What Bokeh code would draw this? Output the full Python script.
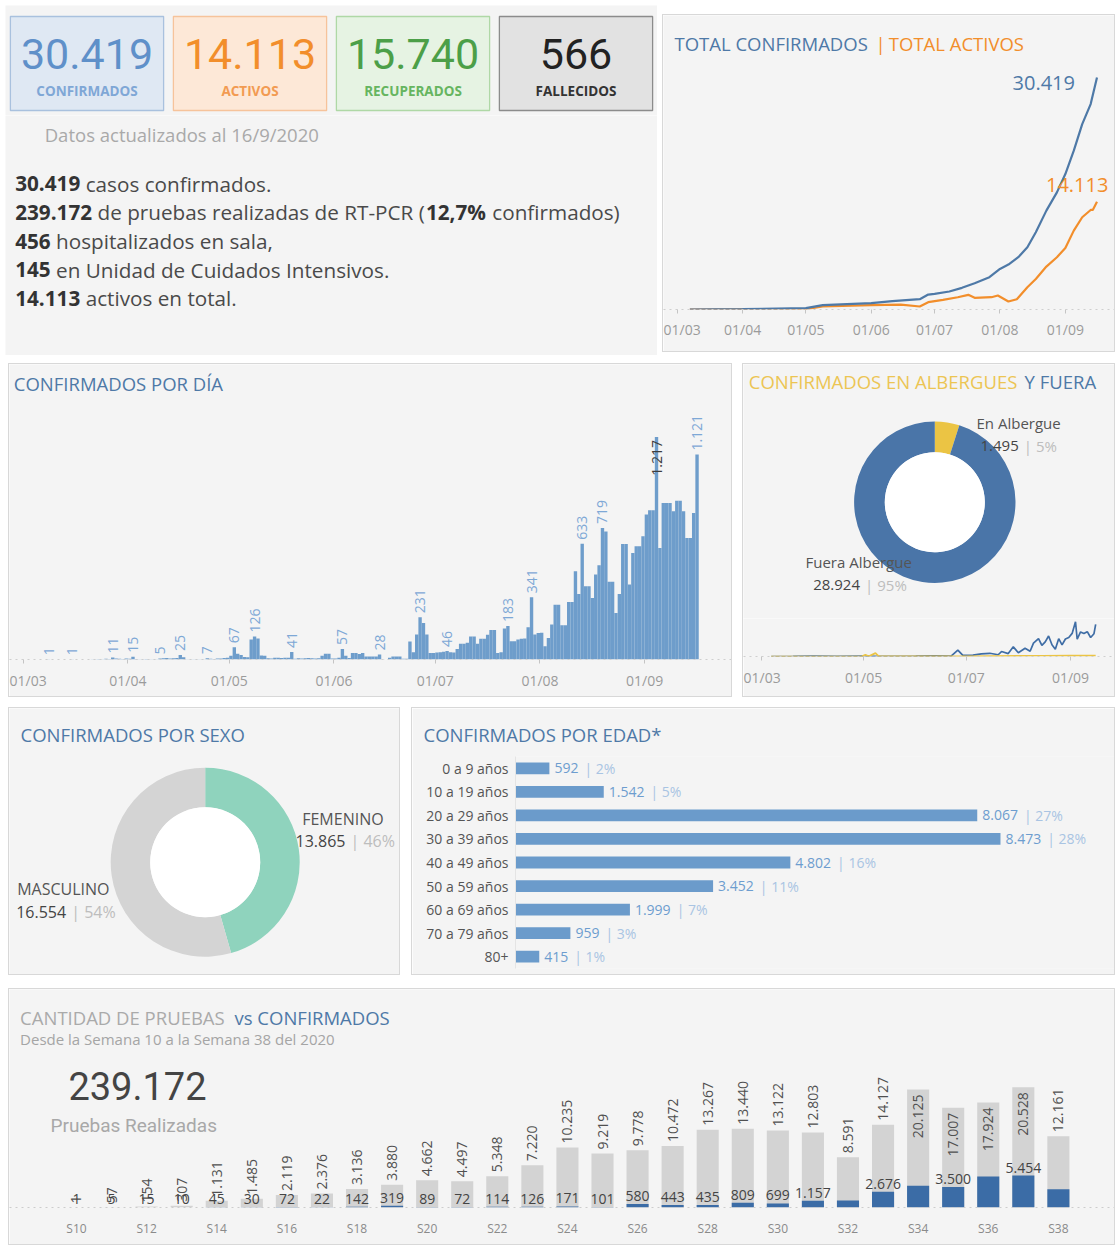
import math
from datetime import datetime, timedelta
import pandas as pd
from bokeh.plotting import figure
from bokeh.models import (ColumnDataSource, Range1d, FactorRange, FixedTicker,
                          DatetimeTickFormatter, Label, Title)
from bokeh.layouts import row, column
from bokeh.embed import file_html
from bokeh.resources import INLINE
from bokeh.core.properties import value

# ------------------------------------------------------------------ DATA
kpi_labels = ["CONFIRMADOS", "ACTIVOS", "RECUPERADOS", "FALLECIDOS"]
kpi_values = [30419, 14113, 15740, 566]

update_text = "Datos actualizados al 16/9/2020"
summary_lines = [
    [("30.419 ", True), ("casos confirmados.", False)],
    [("239.172 ", True), ("de pruebas realizadas de RT-PCR (", False), ("12,7% ", True), ("confirmados)", False)],
    [("456 ", True), ("hospitalizados en sala,", False)],
    [("145 ", True), ("en Unidad de Cuidados Intensivos.", False)],
    [("14.113 ", True), ("activos en total.", False)],
]

# cumulative totals (top-right)
cum_dates = ["2020-03-07", "2020-04-01", "2020-05-01", "2020-05-09", "2020-06-01", "2020-06-11",
             "2020-06-24", "2020-06-28", "2020-07-01", "2020-07-08", "2020-07-14", "2020-07-20",
             "2020-07-27", "2020-08-01", "2020-08-05", "2020-08-10", "2020-08-14", "2020-08-18",
             "2020-08-23", "2020-08-28", "2020-09-01", "2020-09-05", "2020-09-09", "2020-09-13",
             "2020-09-16"]
cum_confirmed = [1, 40, 170, 570, 830, 1090, 1350, 1960, 2050, 2360, 2840, 3450, 4230, 5320,
                 5890, 6940, 8160, 10120, 12960, 15360, 17760, 20820, 24300, 26930, 30419]
act_dates = ["2020-03-07", "2020-04-01", "2020-05-01", "2020-05-09", "2020-06-01", "2020-06-15",
             "2020-06-24", "2020-06-28", "2020-07-05", "2020-07-12", "2020-07-17", "2020-07-20",
             "2020-07-28", "2020-07-31", "2020-08-05", "2020-08-09", "2020-08-14", "2020-08-18",
             "2020-08-23", "2020-08-28", "2020-09-01", "2020-09-05", "2020-09-09", "2020-09-13",
             "2020-09-14", "2020-09-16"]
act_values = [1, 30, 50, 400, 570, 650, 390, 960, 1270, 1610, 1920, 1530, 1610, 1830, 1050, 1350,
              2920, 4010, 5630, 6850, 8070, 10340, 12090, 13050, 13050, 14113]

# daily confirmed
daily_mar = [0, 0, 0, 0, 0, 0, 0, 1, 0, 0, 0, 0, 0, 0, 1, 0, 0, 0, 0, 0, 2, 1, 3, 2, 4, 3, 11, 6, 4, 3, 5]
daily_apr = [4, 15, 3, 2, 1, 3, 2, 1, 2, 5, 7, 8, 6, 7, 8, 25, 12, 2, 1, 1, 2, 1, 2, 7, 4, 3, 5, 6, 8, 10]
daily_may = [20, 67, 31, 25, 13, 12, 110, 126, 115, 22, 20, 7, 6, 9, 9, 8, 9, 9, 41, 4, 7, 6, 7, 8, 7,
             6, 7, 20, 31, 31, 6]
daily_jun = [5, 10, 57, 20, 8, 35, 35, 30, 35, 16, 16, 16, 16, 28, 2, 0, 10, 16, 16, 16, 4, 4, 98, 40,
             137, 231, 200, 137, 35, 35]
daily_jul = [38, 40, 42, 46, 40, 38, 58, 86, 86, 91, 126, 126, 86, 113, 113, 135, 162, 162, 35, 40, 170,
             183, 100, 100, 110, 113, 115, 177, 341, 137, 145]
daily_aug = [146, 73, 118, 191, 300, 300, 188, 188, 315, 315, 483, 359, 633, 401, 401, 337, 465, 516,
             719, 700, 425, 425, 255, 359, 632, 632, 410, 583, 620, 620, 674]
daily_sep = [793, 816, 816, 1217, 610, 856, 856, 856, 811, 869, 869, 811, 665, 665, 802, 1121]
daily_labeled = ["2020-03-08", "2020-03-15", "2020-03-27", "2020-04-02", "2020-04-10", "2020-04-16",
                 "2020-04-24", "2020-05-02", "2020-05-08", "2020-05-19", "2020-06-03", "2020-06-14",
                 "2020-06-26", "2020-07-04", "2020-07-22", "2020-07-29", "2020-08-13", "2020-08-19",
                 "2020-09-04", "2020-09-16"]
daily_label_inside = ["2020-09-04"]

month_ticks = ["2020-03-01", "2020-04-01", "2020-05-01", "2020-06-01", "2020-07-01", "2020-08-01",
               "2020-09-01"]
bimonth_ticks = ["2020-03-01", "2020-05-01", "2020-07-01", "2020-09-01"]

# albergues
alb_categories = ["En Albergue", "Fuera Albergue"]
alb_values = [1495, 28924]
alb_pct = ["5%", "95%"]
fuera_dates = ["2020-03-07", "2020-03-20", "2020-04-01", "2020-04-15", "2020-05-01", "2020-05-08",
               "2020-05-15", "2020-06-01", "2020-06-12", "2020-06-22", "2020-06-26", "2020-06-29",
               "2020-07-05", "2020-07-10", "2020-07-15", "2020-07-20", "2020-07-22", "2020-07-26",
               "2020-07-29", "2020-08-01", "2020-08-05", "2020-08-08", "2020-08-10", "2020-08-13",
               "2020-08-15", "2020-08-17", "2020-08-19", "2020-08-21", "2020-08-23", "2020-08-25",
               "2020-08-27", "2020-08-29", "2020-08-31", "2020-09-02", "2020-09-04", "2020-09-05",
               "2020-09-07", "2020-09-09", "2020-09-11", "2020-09-13", "2020-09-15", "2020-09-16"]
fuera_values = [0, 2, 10, 8, 15, 5, 8, 10, 20, 15, 220, 40, 45, 90, 110, 60, 170, 100, 330, 130, 280,
                180, 460, 610, 380, 500, 700, 400, 250, 610, 400, 600, 650, 790, 1190, 590, 840, 790,
                850, 650, 780, 1100]
alb_dates = ["2020-03-07", "2020-04-20", "2020-04-30", "2020-05-02", "2020-05-04", "2020-05-08",
             "2020-05-10", "2020-06-01", "2020-07-01", "2020-07-15", "2020-08-01", "2020-08-15",
             "2020-09-01", "2020-09-16"]
alb_daily = [0, 0, 5, 60, 5, 115, 5, 3, 5, 15, 20, 25, 30, 30]

# sexo
sex_categories = ["FEMENINO", "MASCULINO"]
sex_values = [13865, 16554]
sex_pct = ["46%", "54%"]

# edad
age_groups = ["0 a 9 años", "10 a 19 años", "20 a 29 años", "30 a 39 años", "40 a 49 años",
              "50 a 59 años", "60 a 69 años", "70 a 79 años", "80+"]
age_values = [592, 1542, 8067, 8473, 4802, 3452, 1999, 959, 415]
age_pct = ["2%", "5%", "27%", "28%", "16%", "11%", "7%", "3%", "1%"]

# pruebas vs confirmados por semana
weeks = [10, 11, 12, 13, 14, 15, 16, 17, 18, 19, 20, 21, 22, 23, 24, 25, 26, 27, 28, 29, 30, 31,
         32, 33, 34, 35, 36, 37, 38]
week_tests = [1, 57, 154, 307, 1131, 1485, 2119, 2376, 3136, 3880, 4662, 4497, 5348, 7220, 10235,
              9219, 9778, 10472, 13267, 13440, 13122, 12803, 8591, 14127, 20125, 17007, 17924, 20528,
              12161]
week_confirmed = [1, 5, 15, 10, 45, 30, 72, 22, 142, 319, 89, 72, 114, 126, 171, 101, 580, 443, 435,
                  809, 699, 1157, 1180, 2676, 3700, 3500, 5300, 5454, 3100]
week_tick_weeks = [10, 12, 14, 16, 18, 20, 22, 24, 26, 28, 30, 32, 34, 36, 38]
conf_label_hidden = [32, 34, 36, 38]
total_tests_text = "239.172"

# ------------------------------------------------------------------ STYLE
FONT = "Open Sans"
NUMFONT = "Roboto"
BG = "#f4f4f4"
BORDER = {"border": "1px solid #d8d8d8"}
BLUE = "#4e79a7"
ORANGE = "#f28e2b"

OW = {' ': .26, '.': .266, ',': .244, '(': .297, ')': .297, '-': .322, '%': .828, '/': .367,
      '|': .55, '*': .55}
for _c in '0123456789':
    OW[_c] = .572
OW.update(dict(a=.556, b=.613, c=.476, d=.613, e=.561, f=.339, g=.548, h=.614, i=.253, j=.253,
               k=.525, l=.253, m=.930, n=.614, o=.604, p=.613, q=.613, r=.408, s=.477, t=.353,
               u=.614, v=.501, w=.778, x=.524, y=.501, z=.477))
OW.update(dict(A=.633, B=.648, C=.631, D=.729, E=.556, F=.516, G=.728, H=.738, I=.279, L=.524,
               M=.903, N=.760, O=.781, P=.603, R=.627, S=.549, T=.556, U=.734, V=.600))
BOLD_EXTRA = {'%': .12, ',': .04, '.': .02}


def tw(s, size, bold=False):
    w = sum(OW.get(ch, .58) + (BOLD_EXTRA.get(ch, 0) if bold else 0) for ch in s) * size
    return w


def fmt(v):
    return f"{v:,}".replace(",", ".")


def day(n):
    return datetime(2020, 3, 1) + timedelta(days=n)


def mk(w, h, **kw):
    p = figure(width=w, height=h, output_backend="svg", toolbar_location=None, title=None, **kw)
    p.background_fill_color = BG
    p.border_fill_color = BG
    p.outline_line_color = None
    p.grid.visible = False
    return p


def lab(p, x, y, text, color, size, style="normal", font=FONT, align="left"):
    p.add_layout(Label(x=x, y=y, x_units="canvas", y_units="canvas", text=text,
                       text_color=color, text_font_size=f"{size}px", text_font=font,
                       text_font_style=style, text_align=align, text_baseline="middle"))


def style_dt_axis(p, ticks, size="14px", standoff=8):
    ax = p.xaxis[0]
    ax.ticker = FixedTicker(ticks=[pd.Timestamp(t).value / 1e6 for t in ticks])
    ax.formatter = DatetimeTickFormatter(days="%d/%m", months="%d/%m", years="%d/%m")
    ax.major_label_text_font = FONT
    ax.major_label_text_font_size = size
    ax.major_label_text_color = "#9b9b9b"
    ax.axis_line_color = "#cfcfcf"
    ax.axis_line_dash = "dotted"
    ax.major_tick_line_color = "#c4c4c4"
    ax.major_tick_in = 0
    ax.major_tick_out = 4
    ax.minor_tick_line_color = None
    ax.major_label_standoff = standoff


def panel(*children, margin=(0, 0, 0, 0)):
    return column(*children, spacing=0, styles=BORDER, margin=margin)


# ------------------------------------------------------------------ KPI boxes
kpi = mk(652, 110, x_range=FactorRange(*kpi_labels, range_padding=0), y_range=Range1d(0, 110),
         x_axis_location=None, y_axis_location=None, min_border=0)
ksrc = ColumnDataSource(dict(
    k=kpi_labels, v=[fmt(v) for v in kpi_values],
    fill=["#dfe8f3", "#fde8d7", "#e6f3e3", "#e2e2e2"],
    line=["#a9c1de", "#f6c39b", "#afd8a6", "#8c8c8c"],
    num=["#5f90c9", "#f28e2b", "#4c9f48", "#222222"],
    lab=["#7fa7d6", "#f29b52", "#66b560", "#333333"]))
kpi.rect(x="k", y=52, width=0.94, height=94, fill_color="fill", line_color="line", line_width=1.3,
         source=ksrc)
kpi.text(x="k", y=62, text="v", text_color="num", text_font=value(NUMFONT), text_font_size="43px",
         text_align="center", text_baseline="middle", source=ksrc)
kpi.text(x="k", y=25, text="k", text_color="lab", text_font=value(FONT), text_font_size="13.5px",
         text_font_style="bold", text_align="center", text_baseline="middle", source=ksrc)

# ------------------------------------------------------------------ summary text
tx = mk(652, 240, x_range=Range1d(0, 652), y_range=Range1d(240, 0),
        x_axis_location=None, y_axis_location=None, min_border=0)
tx.text(x=[39.2], y=[19], text=[update_text], text_color="#a9a9a9", text_font=value(FONT),
        text_font_size="18.5px", text_baseline="middle")
line_y = [68.3, 96.7, 125.7, 154.3, 182.7]
TS = 20.7
bx, by, bt, nx, ny, nt = [], [], [], [], [], []
for i, segs in enumerate(summary_lines):
    x = 9.7
    for txt, b in segs:
        if b:
            bx.append(x); by.append(line_y[i]); bt.append(txt.strip())
        else:
            nx.append(x); ny.append(line_y[i]); nt.append(txt)
        x += tw(txt, TS, b)
tx.text(x=bx, y=by, text=bt, text_color="#333333", text_font=value(FONT), text_font_size=f"{TS}px",
        text_font_style="bold", text_baseline="middle")
tx.text(x=nx, y=ny, text=nt, text_color="#4a4a4a", text_font=value(FONT), text_font_size=f"{TS}px",
        text_baseline="middle")

left_block = column(kpi, tx, spacing=0)

# ------------------------------------------------------------------ top right: totals
ptr = mk(451, 336, x_axis_type="datetime", y_axis_location=None,
         x_range=Range1d(day(-6.49), day(207.3)), y_range=Range1d(0, 38543),
         min_border_left=0, min_border_right=0, min_border_top=0, min_border_bottom=42)
ptr.line(x=pd.to_datetime(act_dates), y=act_values, line_color=ORANGE, line_width=2.2)
ptr.line(x=pd.to_datetime(cum_dates), y=cum_confirmed, line_color=BLUE, line_width=2.2)
ptr.text(x=[pd.Timestamp(cum_dates[-1])], y=[cum_confirmed[-1]], text=[fmt(cum_confirmed[-1])],
         text_color=BLUE, text_font=value(FONT), text_font_size="20px", text_align="right",
         text_baseline="middle", x_offset=-22, y_offset=6)
ptr.text(x=[pd.Timestamp(act_dates[-1])], y=[act_values[-1]], text=[fmt(act_values[-1])],
         text_color=ORANGE, text_font=value(FONT), text_font_size="20px", text_align="left",
         text_baseline="middle", x_offset=-51, y_offset=-17)
style_dt_axis(ptr, month_ticks, standoff=6)
lab(ptr, 11, 28.3, "TOTAL CONFIRMADOS", BLUE, 18.5)
lab(ptr, 212, 28.3, "|", ORANGE, 18.5)
lab(ptr, 225.3, 28.3, "TOTAL ACTIVOS", ORANGE, 18.5)
tr_panel = panel(ptr, margin=(9, 0, 0, 0))

# ------------------------------------------------------------------ daily bars
daily = daily_mar + daily_apr + daily_may + daily_jun + daily_jul + daily_aug + daily_sep
ddates = pd.date_range("2020-03-01", periods=len(daily), freq="D")
pdy = mk(722, 332, x_axis_type="datetime", y_axis_location=None,
         x_range=Range1d(day(-4.06), day(209.7)), y_range=Range1d(0, 1614),
         min_border_left=0, min_border_right=0, min_border_top=0, min_border_bottom=37)
pdy.vbar(x=ddates + pd.Timedelta(hours=12), top=daily, width=86400000, fill_color="#6e9dcb",
         line_color=None)
dmap = {d.strftime("%Y-%m-%d"): v for d, v in zip(ddates, daily)}
out_d = [d for d in daily_labeled if d not in daily_label_inside]
pdy.text(x=[pd.Timestamp(d) + pd.Timedelta(hours=12) for d in out_d], y=[dmap[d] for d in out_d],
         text=[fmt(dmap[d]) for d in out_d], angle=math.pi / 2, text_color="#7ea8d6",
         text_font=value(FONT), text_font_size="14px", text_align="left", text_baseline="middle",
         y_offset=-4)
pdy.text(x=[pd.Timestamp(d) + pd.Timedelta(hours=12) for d in daily_label_inside],
         y=[dmap[d] for d in daily_label_inside], text=[fmt(dmap[d]) for d in daily_label_inside],
         angle=math.pi / 2, text_color="#3d3d3d", text_font=value(FONT), text_font_size="14px",
         text_align="right", text_baseline="middle", y_offset=3)
style_dt_axis(pdy, month_ticks, standoff=7)
lab(pdy, 4.3, 19.3, "CONFIRMADOS POR DÍA", BLUE, 18.5)
d_panel = panel(pdy)

# ------------------------------------------------------------------ albergues
pad = mk(371, 254, x_range=Range1d(0, 371), y_range=Range1d(0, 254),
         x_axis_location=None, y_axis_location=None, min_border=0)
tot = sum(alb_values)
starts, ends, acc = [], [], 0
for v in alb_values:
    starts.append(math.pi / 2 - 2 * math.pi * acc / tot)
    acc += v
    ends.append(math.pi / 2 - 2 * math.pi * acc / tot)
asrc = ColumnDataSource(dict(cat=alb_categories, start=starts, end=ends, color=["#ebc444", "#4a75a8"]))
pad.annular_wedge(x=191.3, y=116.3, inner_radius=50, outer_radius=80.7, inner_radius_units="screen",
                  outer_radius_units="screen", start_angle="start", end_angle="end",
                  direction="clock", fill_color="color", line_color=None, source=asrc)
pad.circle(x=[191.3], y=[116.3], radius=50, radius_units="screen", fill_color="white",
           line_color=None)
alx = [233, 62]
aly = [195.3, 56.3]
nlx = [237, 69.7]
nly = [173, 34]
pad.text(x=alx, y=aly, text=alb_categories, text_color="#555555", text_font=value(FONT),
         text_font_size="15px", text_baseline="middle")
anums = [fmt(v) for v in alb_values]
pad.text(x=nlx, y=nly, text=anums, text_color="#444444", text_font=value(FONT),
         text_font_size="15px", text_baseline="middle")
pad.text(x=nlx, y=nly, text=["| " + p for p in alb_pct], text_color="#bdbdbd",
         text_font=value(FONT), text_font_size="15px", text_baseline="middle",
         x_offset=[tw(s, 15) + 5 for s in anums])
lab(pad, 5.3, 16.7, "CONFIRMADOS EN ALBERGUES", "#ecc553", 18.5)
lab(pad, 281, 16.7, "Y FUERA", BLUE, 18.5)

pal = mk(371, 78, x_axis_type="datetime", y_axis_location=None,
         x_range=Range1d(day(-10.5), day(210.2)), y_range=Range1d(0, 1300),
         min_border_left=0, min_border_right=0, min_border_top=0, min_border_bottom=40)
pal.line(x=pd.to_datetime(fuera_dates), y=fuera_values, line_color="#3f6da5", line_width=1.7)
pal.line(x=pd.to_datetime(alb_dates), y=alb_daily, line_color="#ebc444", line_width=1.7)
style_dt_axis(pal, bimonth_ticks, standoff=7)
a_panel = panel(pad, pal)

# ------------------------------------------------------------------ sexo
ps = mk(390, 266, x_range=Range1d(0, 390), y_range=Range1d(0, 266),
        x_axis_location=None, y_axis_location=None, min_border=0)
tot = sum(sex_values)
starts, ends, acc = [], [], 0
for v in sex_values:
    starts.append(math.pi / 2 - 2 * math.pi * acc / tot)
    acc += v
    ends.append(math.pi / 2 - 2 * math.pi * acc / tot)
ssrc = ColumnDataSource(dict(cat=sex_categories, start=starts, end=ends, color=["#8fd3bd", "#d4d4d4"]))
ps.annular_wedge(x=195.7, y=112.3, inner_radius=55, outer_radius=94.5, inner_radius_units="screen",
                 outer_radius_units="screen", start_angle="start", end_angle="end",
                 direction="clock", fill_color="color", line_color=None, source=ssrc)
ps.circle(x=[195.7], y=[112.3], radius=55, radius_units="screen", fill_color="white", line_color=None)
slx = [292.7, 7.7]
sly = [155.7, 85.7]
snx = [286, 6.7]
sny = [134, 62.3]
ps.text(x=slx, y=sly, text=sex_categories, text_color="#555555", text_font=value(FONT),
        text_font_size="16px", text_baseline="middle")
snums = [fmt(v) for v in sex_values]
ps.text(x=snx, y=sny, text=snums, text_color="#444444", text_font=value(FONT),
        text_font_size="16px", text_baseline="middle")
ps.text(x=snx, y=sny, text=["| " + p for p in sex_pct], text_color="#bdbdbd",
        text_font=value(FONT), text_font_size="16px", text_baseline="middle",
        x_offset=[tw(s, 16) + 5 for s in snums])
lab(ps, 11, 26.3, "CONFIRMADOS POR SEXO", BLUE, 18.5)
s_panel = panel(ps)

# ------------------------------------------------------------------ edad
pe = mk(702, 266, y_range=FactorRange(*reversed(age_groups)), x_range=Range1d(0, 10465),
        x_axis_location=None, min_border_left=103, min_border_right=0, min_border_top=48,
        min_border_bottom=6)
pe.title = Title(text="CONFIRMADOS POR EDAD*", text_color=BLUE, text_font=FONT,
                 text_font_size="18.5px", text_font_style="normal", align="left", offset=-92,
                 standoff=20)
esrc = ColumnDataSource(dict(g=age_groups, v=age_values, num=[fmt(v) for v in age_values],
                             pct=["| " + p for p in age_pct],
                             off=[5 + tw(fmt(v), 14) + 6 for v in age_values]))
pe.hbar(y="g", right="v", left=0, height=0.5, fill_color="#6b9bcb", line_color=None, source=esrc)
pe.text(x="v", y="g", text="num", text_color="#6d9dcf", text_font=value(FONT),
        text_font_size="14px", text_baseline="middle", x_offset=5, source=esrc)
pe.text(x="v", y="g", text="pct", text_color="#a9c4e3", text_font=value(FONT),
        text_font_size="14px", text_baseline="middle", x_offset="off", source=esrc)
ya = pe.yaxis[0]
ya.major_tick_line_color = None
ya.major_tick_out = 0
ya.major_tick_in = 0
ya.minor_tick_line_color = None
ya.axis_line_color = "#e4e4e4"
ya.major_label_text_font = FONT
ya.major_label_text_font_size = "14px"
ya.major_label_text_color = "#555555"
ya.major_label_standoff = 7
e_panel = panel(pe)

# ------------------------------------------------------------------ pruebas vs confirmados
pb = mk(1105, 255, y_axis_location=None, x_range=Range1d(8.09, 39.60), y_range=Range1d(0, 37190),
        min_border_left=0, min_border_right=0, min_border_top=0, min_border_bottom=37)
pb.vbar(x=weeks, top=week_tests, width=0.63, fill_color="#d3d3d3", line_color=None)
pb.vbar(x=weeks, top=week_confirmed, width=0.63, fill_color="#3b6ca6", line_color=None)
out_w = [(w, t) for w, t in zip(weeks, week_tests) if t < 15000]
in_w = [(w, t) for w, t in zip(weeks, week_tests) if t >= 15000]
pb.text(x=[w for w, _ in out_w], y=[t for _, t in out_w], text=[fmt(t) for _, t in out_w],
        angle=math.pi / 2, text_color="#505050", text_font=value(FONT), text_font_size="14px",
        text_align="left", text_baseline="middle", y_offset=-4)
pb.text(x=[w for w, _ in in_w], y=[t for _, t in in_w], text=[fmt(t) for _, t in in_w],
        angle=math.pi / 2, text_color="#505050", text_font=value(FONT), text_font_size="14px",
        text_align="right", text_baseline="middle", y_offset=5)
cw = [(w, c) for w, c in zip(weeks, week_confirmed) if w not in conf_label_hidden]
pb.text(x=[w for w, _ in cw], y=[c for _, c in cw], text=[fmt(c) for _, c in cw],
        text_color="#444444", text_font=value(FONT), text_font_size="14px", text_align="center",
        text_baseline="bottom", y_offset=-3)
xa = pb.xaxis[0]
xa.ticker = FixedTicker(ticks=week_tick_weeks)
xa.major_label_overrides = {w: f"S{w}" for w in weeks}
xa.major_label_text_font = FONT
xa.major_label_text_font_size = "12px"
xa.major_label_text_color = "#8a8a8a"
xa.axis_line_color = "#cccccc"
xa.axis_line_dash = "dotted"
xa.major_tick_line_color = None
xa.minor_tick_line_color = None
xa.major_label_standoff = 6
lab(pb, 10.6, 27.7, "CANTIDAD DE PRUEBAS", "#aaaaaa", 18.5)
lab(pb, 225, 27.7, "vs CONFIRMADOS", BLUE, 18.5)
lab(pb, 10.6, 49.3, "Desde la Semana 10 a la Semana 38 del 2020", "#a5a5a5", 15)
lab(pb, 58.9, 96, total_tests_text, "#444444", 38, font=NUMFONT)
lab(pb, 41, 136, "Pruebas Realizadas", "#a8a8a8", 19, font=NUMFONT)
b_panel = panel(pb)

# ------------------------------------------------------------------ layout
page = column(
    row(left_block, tr_panel, spacing=5, margin=(5, 0, 0, 5)),
    row(d_panel, a_panel, spacing=10, margin=(8, 0, 0, 8)),
    row(s_panel, e_panel, spacing=11, margin=(10, 0, 0, 8)),
    column(b_panel, margin=(13, 0, 0, 8)),
    spacing=0,
)

with open("out.html", "w") as f:
    f.write(file_html(page, INLINE, title="Dashboard"))
